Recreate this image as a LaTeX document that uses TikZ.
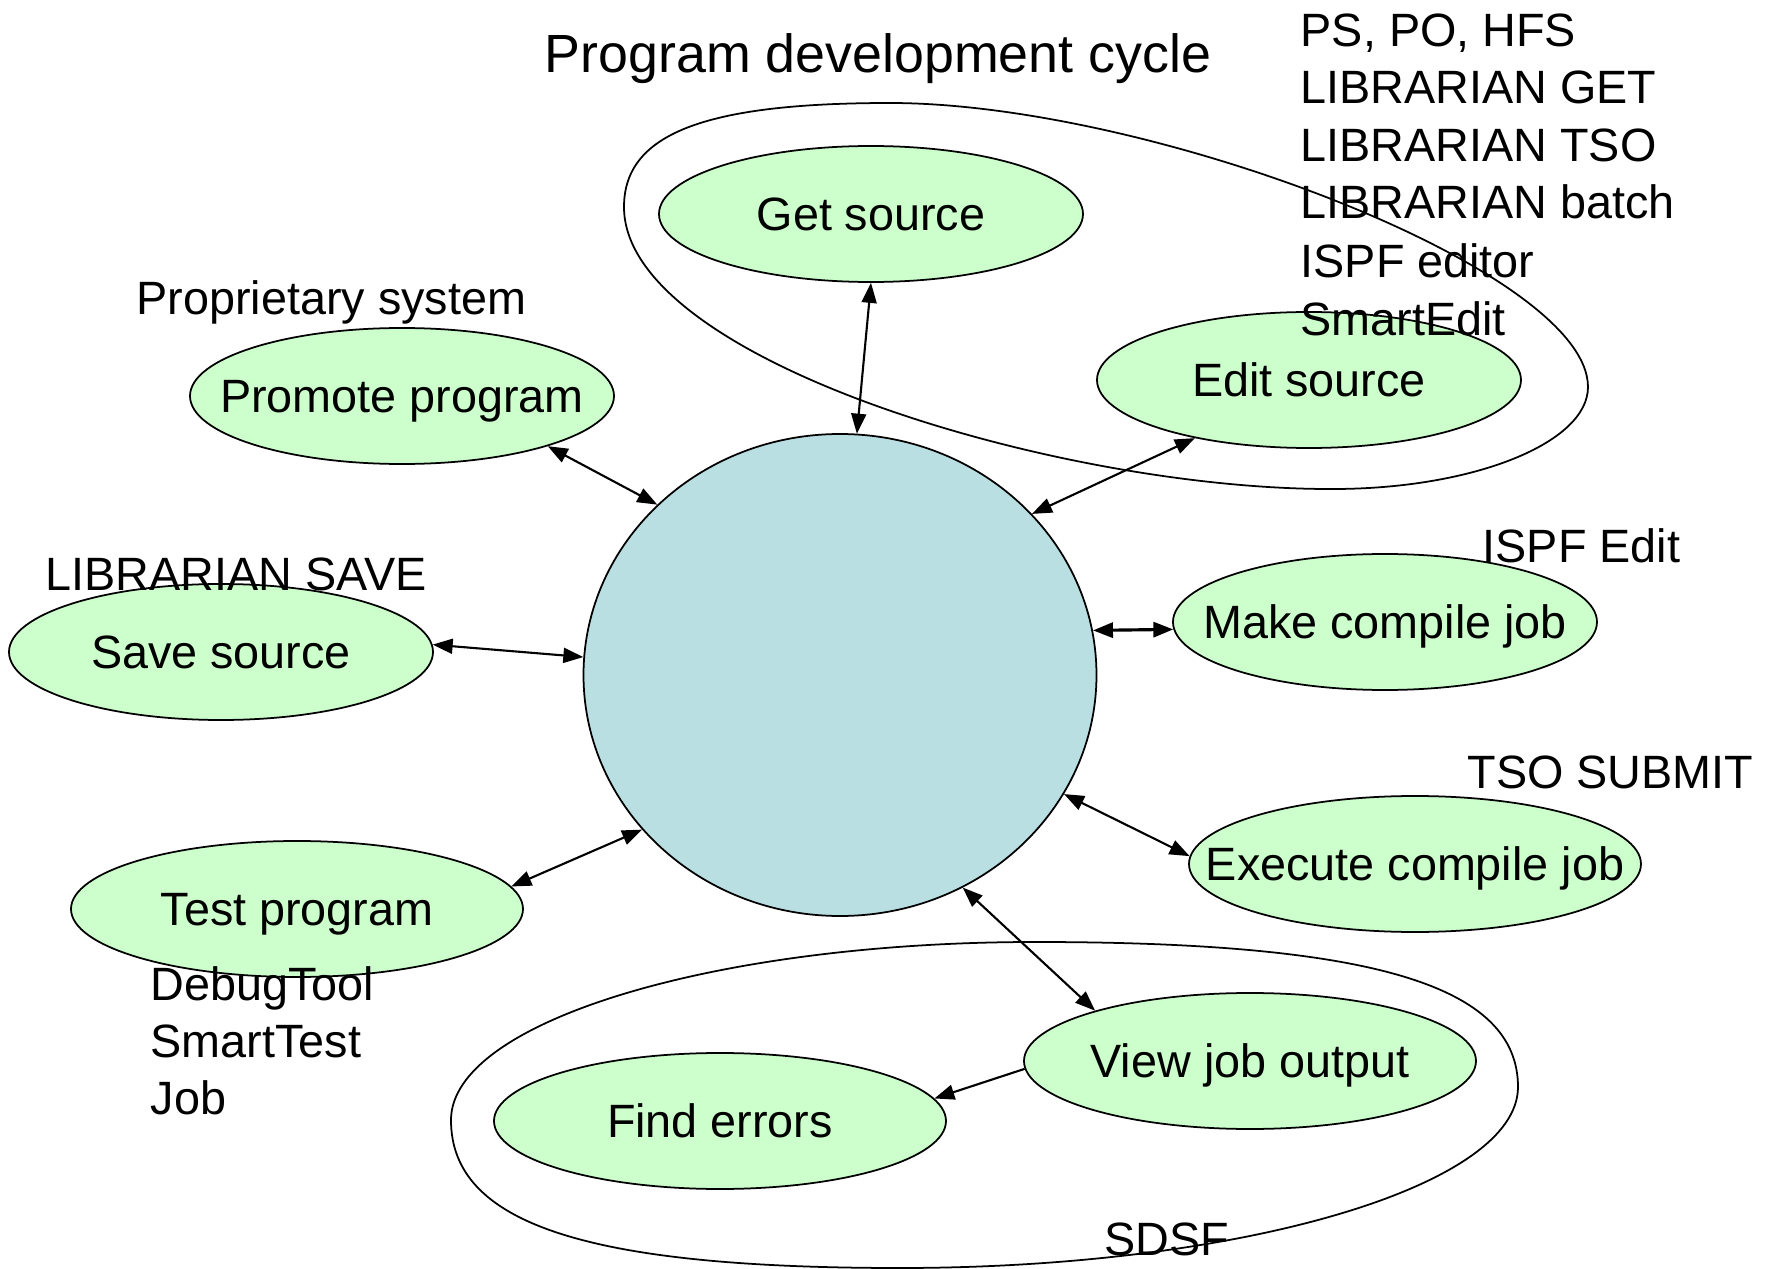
\documentclass[tikz,border=0pt]{standalone}
\usepackage{fontspec}
\setmainfont{Liberation Sans}
\usetikzlibrary{shapes.geometric,arrows.meta}
\definecolor{nodegreen}{HTML}{CCFFCC}
\definecolor{hubblue}{HTML}{B9DFE3}
\begin{document}
\begin{tikzpicture}[x=0.1mm,y=-0.1mm,
  txt/.style={font=\fontsize{13.3}{16.4}\selectfont, inner sep=0pt, anchor=base west},
  titletxt/.style={txt, font=\fontsize{15.3}{18}\selectfont},
  lbl/.style={font=\fontsize{13.3}{16.4}\selectfont, inner sep=0pt, text height=3.37mm, text depth=0pt},
  task/.style={ellipse, draw=black, line width=0.5pt, fill=nodegreen, inner sep=0pt,
               minimum width=42.4mm, minimum height=13.6mm},
  wide/.style={task, minimum width=45.2mm},
  hub/.style={ellipse, draw=black, line width=0.5pt, fill=hubblue, inner sep=0pt,
              minimum width=51.3mm, minimum height=48.2mm},
  ring/.style={draw=black, line width=0.5pt},
  link/.style={line width=0.6pt, {Triangle[length=2mm,width=1.5mm]}-{Triangle[length=2mm,width=1.5mm]}},
  oneway/.style={line width=0.6pt, -{Triangle[length=2mm,width=1.5mm]}}
]
\useasboundingbox (0,0) rectangle (1775,1269);

% group outlines
\draw[ring] (624,207) .. controls (624,134) and (704,103) .. (890,103)
  .. controls (1150,103) and (1588,270) .. (1588,387)
  .. controls (1588,443) and (1473,489) .. (1333,489)
  .. controls (1060,490) and (624,360) .. cycle;
\draw[ring] (451,1120) .. controls (451,1022) and (714,942) .. (1035,942)
  .. controls (1373,942) and (1518,985.5) .. (1518,1087)
  .. controls (1518,1186.5) and (1240,1268) .. (900,1268)
  .. controls (586,1268) and (451,1223.6) .. cycle;

% nodes
\node[hub] (hub) at (840,675) {};
\node[task, label={[lbl]center:Get source}] (get) at (871,214) {};
\node[task, label={[lbl]center:Edit source}] (edit) at (1309,380) {};
\node[task, label={[lbl]center:Promote program}] (promote) at (402,396) {};
\node[task, label={[lbl]center:Save source}] (save) at (221,652) {};
\node[task, label={[lbl]center:Make compile job}] (make) at (1385,622) {};
\node[wide, label={[lbl]center:Execute compile job}] (exec) at (1415,864) {};
\node[wide, label={[lbl]center:Test program}] (test) at (297,909) {};
\node[wide, label={[lbl]center:View job output}] (view) at (1250,1061) {};
\node[wide, label={[lbl]center:Find errors}] (find) at (720,1121) {};

% connectors
\draw[link] (get.270) -- (hub.86);
\draw[link] (edit.207) -- (hub.40);
\draw[link] (promote.341) -- (hub.137);
\draw[link] (save.2) -- (hub.176);
\draw[link, line width=0.9pt] (make.182) -- (hub.10);
\draw[link] (exec.178) -- (hub.332);
\draw[link] (test.6) -- (hub.218);
\draw[link] (view.162) -- (hub.300);
\draw[oneway] (view.182) -- (find.6);

% free texts
\node[titletxt] (title) at (544,72) {Program development cycle};
\node[txt] (t1) at (1300,46) {PS, PO, HFS};
\node[txt] (t2) at (1300,103.5) {LIBRARIAN GET};
\node[txt] (t3) at (1300,161) {LIBRARIAN TSO};
\node[txt] (t4) at (1300,219) {LIBRARIAN batch};
\node[txt] (t5) at (1300,277) {ISPF editor};
\node[txt] (t6) at (1300,335) {SmartEdit};
\node[txt] (prop) at (136,315) {Proprietary system};
\node[txt] (lsave) at (45,590) {LIBRARIAN SAVE};
\node[txt] (ispf) at (1482,562) {ISPF Edit};
\node[txt] (tso) at (1467,788) {TSO SUBMIT};
\node[txt] (d1) at (150,1000) {DebugTool};
\node[txt] (d2) at (150,1057) {SmartTest};
\node[txt] (d3) at (150,1114) {Job};
\node[txt] (sdsf) at (1104,1255) {SDSF};
\end{tikzpicture}
\end{document}
